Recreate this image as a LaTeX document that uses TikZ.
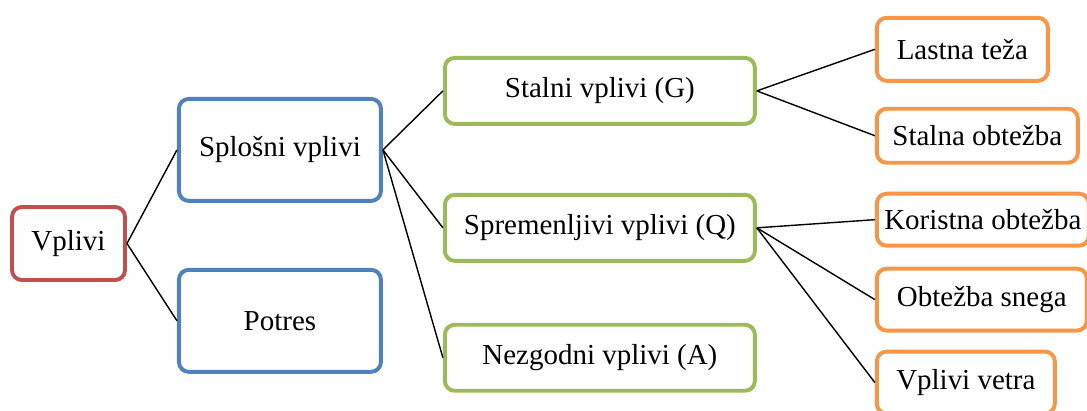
\documentclass[tikz,border=0pt]{standalone}
\usepackage{fontspec}
\setmainfont{Liberation Serif}
\usepackage{xcolor}
\definecolor{vplivred}{RGB}{192, 80, 77}
\definecolor{vplivblue}{RGB}{79, 129, 189}
\definecolor{vplivgreen}{RGB}{155, 187, 89}
\definecolor{vplivorange}{RGB}{247, 150, 70}
\usetikzlibrary{positioning}

\begin{document}
\begin{tikzpicture}[node distance=0.7cm, auto,
        box/.style={rectangle, fill=white, rounded corners=7pt, line width=2.8pt, inner sep=2pt, text centered, font=\fontsize{20.6pt}{24pt}\selectfont},
        root/.style={box, draw=vplivred, minimum width=2.825cm, minimum height=1.825cm},
        group/.style={box, draw=vplivblue, minimum width=5.05cm, minimum height=2.55cm},
        kind/.style={box, draw=vplivgreen, minimum width=7.75cm, minimum height=1.65cm},
        load/.style={box, draw=vplivorange},
        line/.style={draw=black, line width=1pt}]

        \useasboundingbox (0,0) rectangle (27.175,10.25);

        \node [root] (vplivi) at (1.7125,4.1625) {Vplivi};

        \node [group, right=1.25cm of vplivi.east, yshift=2.34cm] (splosni) {Splošni vplivi};
        \node [group, below=1.625cm of splosni] (potres) {Potres};

        \node [kind, right=1.5cm of splosni.east, yshift=1.475cm] (stalni) {Stalni vplivi (G)};
        \node [kind, below=1.675cm of stalni] (spremenljivi) {Spremenljivi vplivi (Q)};
        \node [kind, below=1.5cm of spremenljivi] (nezgodni) {Nezgodni vplivi (A)};

        \node [load, right=2.95cm of stalni.east, yshift=1.04cm, minimum width=4.275cm, minimum height=1.575cm] (lastna) {Lastna teža};
        \node [load, below=0.6cm of lastna.south west, anchor=north west, minimum width=5.025cm, minimum height=1.35cm] (stalna) {Stalna obtežba};
        \node [load, below=0.675cm of stalna.south west, anchor=north west, minimum width=5.3cm, minimum height=1.3cm] (koristna) {Koristna obtežba};
        \node [load, below=0.475cm of koristna.south west, anchor=north west, minimum width=5.25cm, minimum height=1.55cm] (snega) {Obtežba snega};
        \node [load, below=0.425cm of snega.south west, anchor=north west, minimum width=4.45cm, minimum height=1.55cm] (vetra) {Vplivi vetra};

        \path [line] (vplivi.east) -- (splosni.west);
        \path [line] (vplivi.east) -- (potres.west);
        \path [line] (splosni.east) -- (stalni.west);
        \path [line] (splosni.east) -- (spremenljivi.west);
        \path [line] (splosni.east) -- (nezgodni.west);
        \path [line] (stalni.east) -- (lastna.west);
        \path [line] (stalni.east) -- (stalna.west);
        \path [line] (spremenljivi.east) -- (koristna.west);
        \path [line] (spremenljivi.east) -- (snega.west);
        \path [line] (spremenljivi.east) -- (vetra.west);
    \end{tikzpicture}
\end{document}
